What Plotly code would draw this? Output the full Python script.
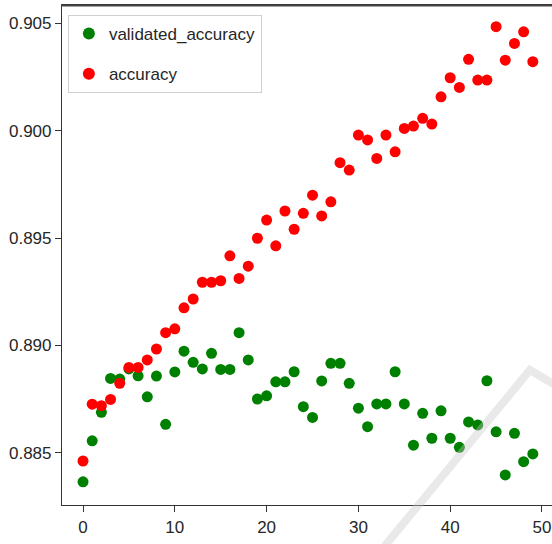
import plotly.graph_objects as go

epochs = list(range(50))

validated_accuracy = [
    0.88364, 0.88555, 0.88688, 0.88846, 0.88843, 0.88890, 0.88858, 0.88760, 0.88857, 0.88632,
    0.88876, 0.88973, 0.88921, 0.88890, 0.88963, 0.88888, 0.88888, 0.89059, 0.88932, 0.88750,
    0.88765, 0.88830, 0.88830, 0.88877, 0.88714, 0.88664, 0.88834, 0.88916, 0.88916, 0.88823,
    0.88707, 0.88621, 0.88727, 0.88727, 0.88877, 0.88727, 0.88535, 0.88683, 0.88567, 0.88695,
    0.88567, 0.88525, 0.88643, 0.88629, 0.88835, 0.88597, 0.88396, 0.88590, 0.88458, 0.88494,
]

accuracy = [
    0.88461, 0.88726, 0.88719, 0.88748, 0.88823, 0.88897, 0.88897, 0.88932, 0.88983, 0.89059,
    0.89077, 0.89175, 0.89216, 0.89294, 0.89294, 0.89301, 0.89417, 0.89312, 0.89369, 0.89499,
    0.89584, 0.89464, 0.89626, 0.89541, 0.89615, 0.89700, 0.89603, 0.89669, 0.89851, 0.89817,
    0.89980, 0.89957, 0.89871, 0.89980, 0.89902, 0.90011, 0.90022, 0.90058, 0.90031, 0.90158,
    0.90247, 0.90202, 0.90333, 0.90236, 0.90236, 0.90485, 0.90329, 0.90407, 0.90461, 0.90322,
]

x_ticks = [0, 10, 20, 30, 40, 50]
y_ticks = [0.885, 0.890, 0.895, 0.900, 0.905]
y_tick_labels = ["0.885", "0.890", "0.895", "0.900", "0.905"]

FONT = "Liberation Sans, Arial, sans-serif"

fig = go.Figure()
fig.add_trace(go.Scatter(
    x=epochs, y=validated_accuracy, mode="markers", name="validated_accuracy",
    legendgroup="a",
    marker=dict(color="#008000", size=11),
))
fig.add_trace(go.Scatter(
    x=epochs, y=accuracy, mode="markers", name="accuracy",
    legendgroup="b",
    marker=dict(color="#ff0000", size=11),
))

# top spine
fig.add_shape(
    type="line", xref="paper", yref="paper", x0=-0.002, x1=1, y0=0.999, y1=0.999,
    line=dict(color="#444444", width=2), layer="above",
)

# faint watermark stroke (decoration from the source image)
fig.add_shape(
    type="path", xref="paper", yref="paper",
    path="M 0.635,-0.11 L 0.955,0.27 L 1.02,0.232",
    line=dict(color="rgba(200,200,200,0.4)", width=8),
    layer="above",
)

fig.update_layout(
    width=552, height=544,
    margin=dict(l=62, r=0, t=5, b=39, autoexpand=False),
    paper_bgcolor="white", plot_bgcolor="white",
    font=dict(family=FONT, color="#262626", size=17),
    showlegend=True,
    legend=dict(
        x=0.012, y=0.98, xanchor="left", yanchor="top",
        bgcolor="white", bordercolor="#d0d0d0", borderwidth=1,
        font=dict(family=FONT, size=17, color="#262626"),
        traceorder="grouped", tracegroupgap=15,
        itemsizing="constant",
    ),
    xaxis=dict(
        range=[-2.29, 51.09], tickvals=x_ticks, ticktext=[str(t) for t in x_ticks],
        showgrid=False, zeroline=False,
        showline=True, linecolor="#333333", linewidth=1.2, mirror=True,
        ticks="outside", ticklen=6, tickcolor="#333333",
        tickfont=dict(family=FONT, size=17, color="#262626"),
        automargin=False,
    ),
    yaxis=dict(
        range=[0.88256, 0.90586], tickvals=y_ticks, ticktext=y_tick_labels,
        showgrid=False, zeroline=False,
        showline=True, linecolor="#333333", linewidth=1.2, mirror=False,
        ticks="outside", ticklen=6, tickcolor="#333333",
        tickfont=dict(family=FONT, size=17, color="#262626"),
        automargin=False,
    ),
)

fig.write_html(
    "out.html",
    config={"displayModeBar": False},
    post_script="document.body.style.margin='0';document.body.style.overflow='hidden';",
)
